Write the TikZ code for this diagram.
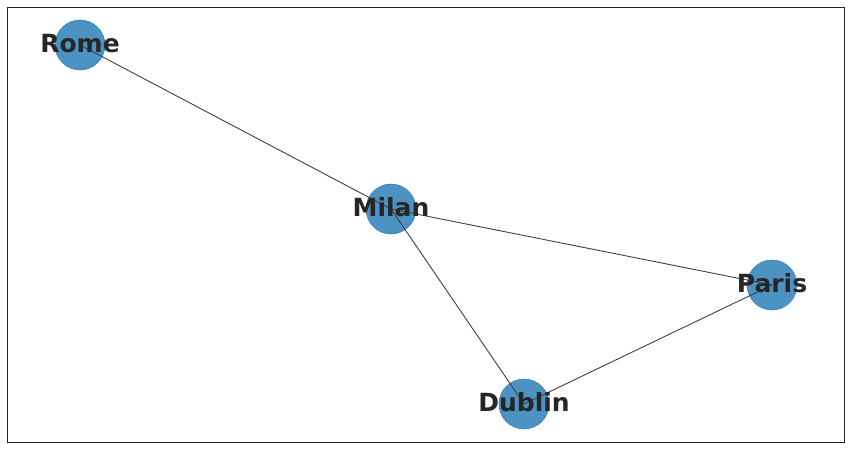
\documentclass[tikz,border=0pt]{standalone}
\usepackage{fontspec}
\setmainfont{DejaVu Sans}
\usetikzlibrary{backgrounds}
\definecolor{cityblue}{HTML}{1F77B4}
\definecolor{labelgray}{HTML}{262626}
\tikzstyle{city} = [circle, minimum size=50pt, inner sep=0pt, fill=cityblue, fill opacity=0.8, draw=cityblue, draw opacity=0.8, line width=0.6pt]
\tikzstyle{cityname} = [font=\fontsize{25}{25}\selectfont\bfseries, text=labelgray, inner sep=0pt, yshift=1.5pt]
\tikzstyle{road} = [line width=0.9pt, draw=black!75]

\begin{document}
\begin{tikzpicture}[x=1pt,y=-1pt]

	\useasboundingbox (0,0) rectangle (851,449);
	\draw[line width=0.8pt, black!85] (7.5,7.5) rectangle (844,442);

	\node[city] (rome) at (80,45) {};
	\node[city] (milan) at (391,209) {};
	\node[city] (paris) at (772,285) {};
	\node[city] (dublin) at (524,404) {};

	\draw[road] (rome.center) -- (milan.center);
	\draw[road] (milan.center) -- (paris.center);
	\draw[road] (milan.center) -- (dublin.center);
	\draw[road] (dublin.center) -- (paris.center);

	\node[cityname] at (rome) {Rome};
	\node[cityname] at (milan) {Milan};
	\node[cityname] at (paris) {Paris};
	\node[cityname] at (dublin) {Dublin};

\end{tikzpicture}
\end{document}
